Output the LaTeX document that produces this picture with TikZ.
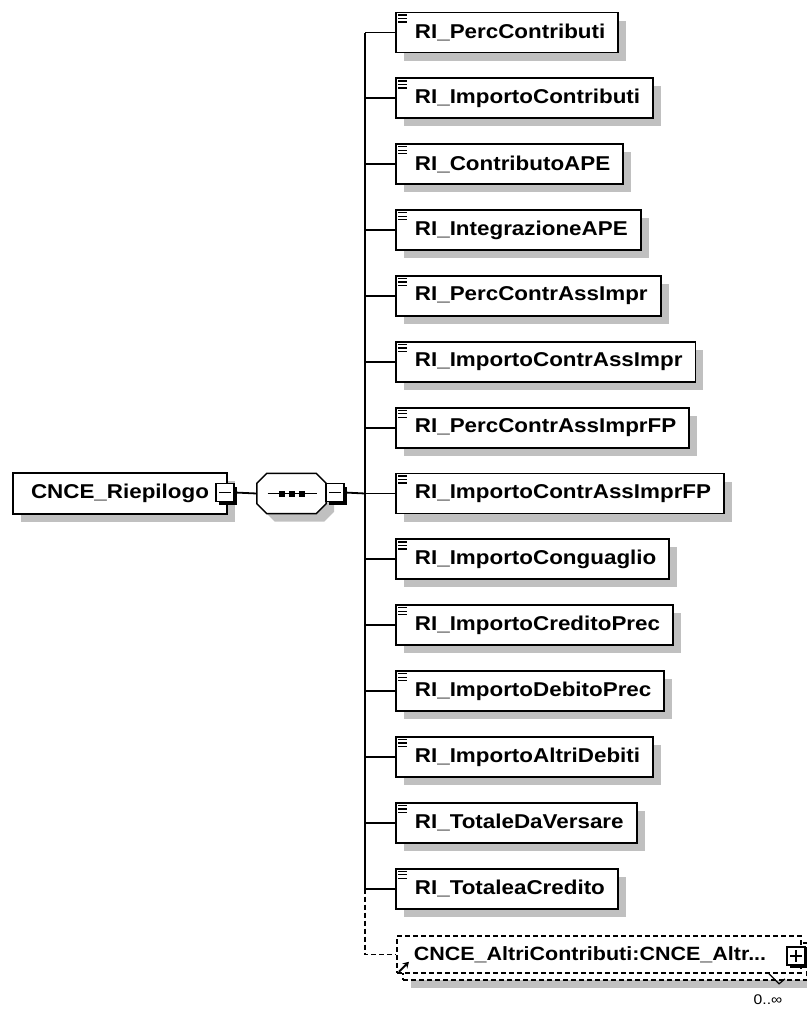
\documentclass[tikz,border=0pt]{standalone}
\usepackage{fontspec}
\usepackage{tikz}
\usetikzlibrary{arrows.meta,shadows,positioning,calc}
\newfontfamily\diagfont[FakeStretch=1.12]{Liberation Sans}
\definecolor{shadowGray}{RGB}{192,192,192}
\definecolor{lineBlack}{RGB}{0,0,0}
\tikzset{
  elembox/.style={
    rectangle, draw=lineBlack, line width=1.8pt, fill=white, anchor=west,
    minimum height=40pt, inner xsep=13pt, inner ysep=0pt,
    font=\diagfont\bfseries\fontsize{20}{22}\selectfont,
    drop shadow={shadow xshift=8pt,shadow yshift=-8pt,fill=shadowGray,opacity=1}
  },
  rootbox/.style={
    rectangle, draw=lineBlack, line width=1.6pt, fill=white,
    minimum width=214pt, minimum height=41pt, inner sep=0pt,
    font=\diagfont\bfseries\fontsize{20}{22}\selectfont,
    drop shadow={shadow xshift=8pt,shadow yshift=-8pt,fill=shadowGray,opacity=1}
  },
  togglebox/.style={
    rectangle, draw=lineBlack, line width=1.5pt, fill=white,
    minimum size=18pt, inner sep=0pt,
    drop shadow={shadow xshift=3pt,shadow yshift=-3pt,fill=lineBlack,opacity=1}
  },
  minus/.style={path picture={
    \draw[line width=1.4pt] ([xshift=3pt]path picture bounding box.west)
      -- ([xshift=-3pt]path picture bounding box.east);}},
  plus/.style={path picture={
    \draw[line width=1.4pt] ([xshift=3pt]path picture bounding box.west)
      -- ([xshift=-3pt]path picture bounding box.east);
    \draw[line width=1.4pt] ([yshift=-3pt]path picture bounding box.north)
      -- ([yshift=3pt]path picture bounding box.south);}},
  seqnode/.style={rectangle, minimum width=69pt, minimum height=40pt, inner sep=0pt},
  refbox/.style={
    rectangle, draw=lineBlack, line width=1.5pt, dash pattern=on 5pt off 3pt,
    fill=white, anchor=west, text width=370pt, align=left,
    minimum height=37pt, inner xsep=17pt, inner ysep=0pt,
    font=\diagfont\bfseries\fontsize{19.2}{21}\selectfont
  },
  conn/.style={draw=lineBlack, line width=1.8pt},
  dashline/.style={dash pattern=on 5pt off 3pt}
}

\begin{document}
\begin{tikzpicture}[x=1pt,y=-1pt]
  \useasboundingbox (0,0) rectangle (806,1009);
  % root element and sequence
  \node[rootbox] (root) at (120,493.5) {CNCE\_Riepilogo};
  \node[togglebox, minus] (rootminus) at (225,492.5) {};
  \node[seqnode] (seq) at (291.5,493.5) {};
  \draw[line width=1.5pt, fill=white,
        drop shadow={shadow xshift=8pt,shadow yshift=-8pt,fill=shadowGray,opacity=1}]
    ($(seq.north west)+(10,0)$) -- ($(seq.north east)+(-10,0)$)
    -- ($(seq.north east)+(0,10)$) -- ($(seq.south east)+(0,-10)$)
    -- ($(seq.south east)+(-10,0)$) -- ($(seq.south west)+(10,0)$)
    -- ($(seq.south west)+(0,-10)$) -- ($(seq.north west)+(0,10)$) -- cycle;
  \draw[line width=1.8pt] ($(seq.center)+(-24,0)$) -- ($(seq.center)+(25,0)$);
  \foreach \dx in {-10,0,10}
    \fill ($(seq.center)+(\dx,0)$) +(-3,-3) rectangle +(3,3);
  \node[togglebox, minus] (seqminus) at (335,492.5) {};
  \coordinate (bus) at (365,493.5);
  \draw[conn] (rootminus.east) -- (seq.west);
  \draw[conn] (seqminus.east) -- (bus);

  % child elements
  \foreach \name [count=\i from 0] in {PercContributi,ImportoContributi,
      ContributoAPE,IntegrazioneAPE,PercContrAssImpr,ImportoContrAssImpr,
      PercContrAssImprFP,ImportoContrAssImprFP,ImportoConguaglio,
      ImportoCreditoPrec,ImportoDebitoPrec,ImportoAltriDebiti,
      TotaleDaVersare,TotaleaCredito}{
    \node[elembox] (c\i) at (395,32.5+65.86*\i) {\hspace*{6pt}RI\_\name};
    \foreach \dy in {3.5,7,10.5}
      \draw[line width=1.3pt] ($(c\i.north west)+(3,\dy)$) -- ++(8.5,0);
    \draw[conn] (bus |- c\i.west) -- (c\i.west);
  }
  \draw[conn] (bus |- c0.west) -- (bus |- c13.west);

  % referenced element, 0..unbounded
  \coordinate (refpos) at (396,954.5);
  \node[refbox, drop shadow={shadow xshift=8pt,shadow yshift=-8pt,fill=shadowGray,opacity=1}]
    (refback) at ($(refpos)+(6,7)$) {\phantom{X}};
  \node[refbox] (ref) at (refpos) {CNCE\_AltriContributi:CNCE\_Altr...};
  \node[togglebox, plus] (refplus) at (796,956) {};
  \draw[conn, dashline] (bus |- c13.west) |- (ref.west);
  \draw[line width=2pt, -{Stealth[length=6pt,width=7pt]}]
    ($(ref.south west)+(3,-2)$) -- ++(10,-10);
  \node[font=\diagfont\fontsize{14}{15}\selectfont, inner sep=1pt] (mult) at (768,1000) {0..∞};
  \draw[line width=1.2pt] ($(mult.north)+(1,-20)$) -- ++(10,10) -- ++(6,-5);
\end{tikzpicture}
\end{document}
